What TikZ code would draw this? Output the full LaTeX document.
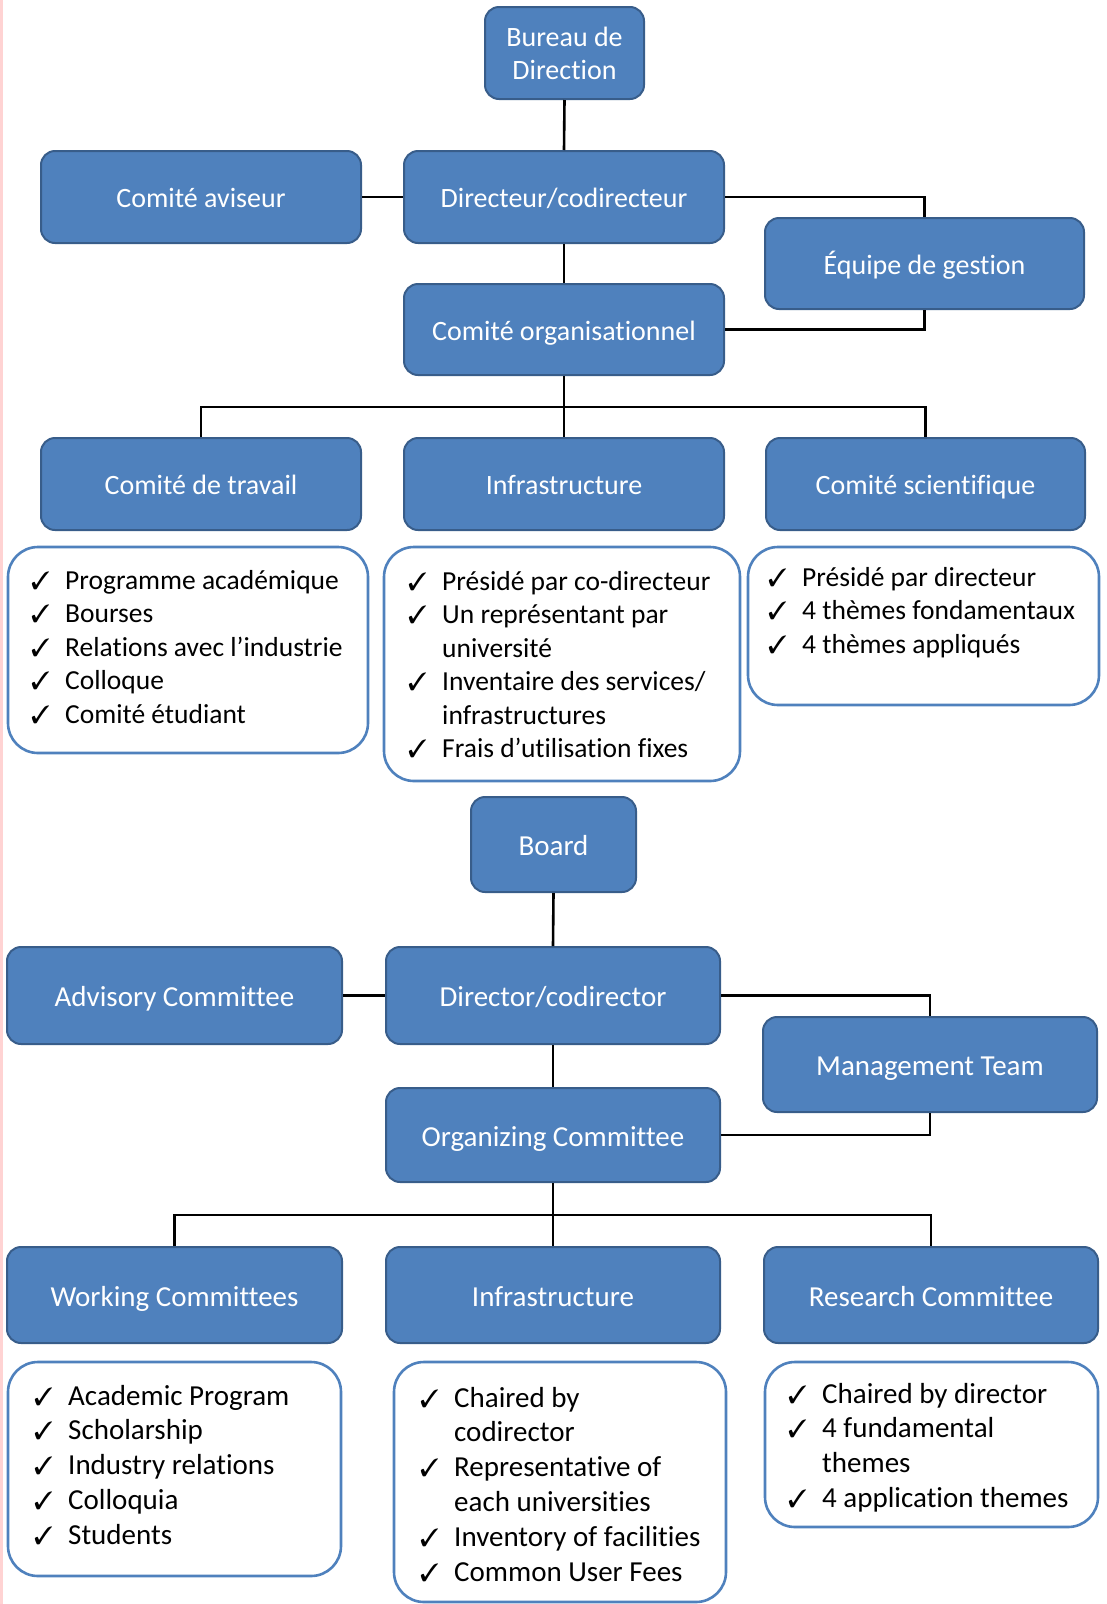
\documentclass[tikz,border=0pt]{standalone}
\usepackage{pifont}
\usepackage{fontspec}
\setmainfont{Carlito}[Ligatures=NoCommon]

\definecolor{unitblue}{HTML}{4F81BD}
\definecolor{unitedge}{HTML}{385D8A}
\definecolor{edgepink}{HTML}{FFD3D3}

\newlength{\chkw}
\setlength{\chkw}{34pt}
\newcommand{\chk}{\makebox[\chkw][l]{\fontsize{25}{25}\selectfont\ding{51}}}

\tikzset{
	unit/.style={draw=unitedge, line width=2pt, fill=unitblue, text=white,
		rounded corners=14pt, inner sep=0pt, text height=21.5pt, text depth=0pt,
		font=\fontsize{28}{33}\selectfont},
	unitE/.style={unit, text height=22.3pt, font=\fontsize{29}{34}\selectfont},
	listbox/.style={draw=unitblue, line width=2.6pt, fill=white,
		rounded corners=30pt, inner sep=0pt},
	listtext/.style={anchor=base west, inner sep=0pt, font=\fontsize{27.5}{33.5}\selectfont},
	listtextE/.style={listtext, font=\fontsize{29}{34.8}\selectfont},
	link/.style={line width=2.6pt, black},
}

\begin{document}
\begin{tikzpicture}[x=1pt,y=-1pt]
	\useasboundingbox (0,0) rectangle (1106,1604);
	\fill[edgepink] (0,0) rectangle (3,1604);

	% french chart: units
	\node[unit, text height={}, text depth={}, minimum width=159pt, minimum height=92pt, align=center] (bureau) at (564.5,53) {Bureau de\\Direction};
	\node[unit, minimum width=320pt, minimum height=92pt] (avis) at (201,197) {Comité aviseur};
	\node[unit, minimum width=320pt, minimum height=92pt] (dir) at (564,197) {Directeur/codirecteur};
	\node[unit, minimum width=319pt, minimum height=91pt] (equipe) at (924.5,263.5) {Équipe de gestion};
	\node[unit, minimum width=320pt, minimum height=91pt] (orga) at (564,329.5) {Comité organisationnel};
	\node[unit, minimum width=320pt, minimum height=92pt] (travail) at (201,484) {Comité de travail};
	\node[unit, minimum width=320pt, minimum height=92pt] (infra) at (564,484) {Infrastructure};
	\node[unit, minimum width=319pt, minimum height=92pt] (sci) at (925.5,484) {Comité scientifique};

	% french chart: lines
	\coordinate (bus) at (564,407);
	\draw[link] (bureau.south) -- (dir.north);
	\draw[link] (avis.east) -- (dir.west);
	\draw[link] (dir.east) -| (equipe.north);
	\draw[link] (orga.east) -| (equipe.south);
	\draw[link] (dir.south) -- (orga.north);
	\draw[link] (orga.south) -- (bus);
	\draw[link] (travail.north) |- (bus) -| (sci.north);
	\draw[link] (bus) -- (infra.north);

	% french chart: lists
	\draw[listbox] (8,547) rectangle (368,753);
	\draw[listbox] (384,547) rectangle (740,781);
	\draw[listbox] (748,547) rectangle (1099,705);

	\node[listtext] (travailL) at (31,589) {\begin{tabular}[t]{@{}l@{}l@{}}
		\chk & Programme académique\\
		\chk & Bourses\\
		\chk & Relations avec l’industrie\\
		\chk & Colloque\\
		\chk & Comité étudiant
	\end{tabular}};
	\node[listtext] (infraL) at (408,590) {\begin{tabular}[t]{@{}l@{}l@{}}
		\chk & Présidé par co-directeur\\
		\chk & Un représentant par\\
		     & université\\
		\chk & Inventaire des services/\\
		     & infrastructures\\
		\chk & Frais d’utilisation fixes
	\end{tabular}};
	\node[listtext] (sciL) at (768,586) {\begin{tabular}[t]{@{}l@{}l@{}}
		\chk & Présidé par directeur\\
		\chk & 4 thèmes fondamentaux\\
		\chk & 4 thèmes appliqués
	\end{tabular}};

	% english chart: units
	\node[unitE, minimum width=165pt, minimum height=95pt] (board) at (553.5,844.5) {Board};
	\node[unitE, minimum width=335pt, minimum height=97pt] (advisory) at (174.5,995.5) {Advisory Committee};
	\node[unitE, minimum width=334pt, minimum height=97pt] (director) at (553,995.5) {Director/codirector};
	\node[unitE, minimum width=334pt, minimum height=95pt] (mgmt) at (930,1064.5) {Management Team};
	\node[unitE, minimum width=334pt, minimum height=94pt] (organizing) at (553,1135) {Organizing Committee};
	\node[unitE, minimum width=335pt, minimum height=96pt] (working) at (174.5,1295) {Working Committees};
	\node[unitE, minimum width=334pt, minimum height=96pt] (infraE) at (553,1295) {Infrastructure};
	\node[unitE, minimum width=334pt, minimum height=96pt] (research) at (931,1295) {Research Committee};

	% english chart: lines
	\coordinate (busE) at (553,1215);
	\draw[link] (board.south) -- (director.north);
	\draw[link] (advisory.east) -- (director.west);
	\draw[link] (director.east) -| (mgmt.north);
	\draw[link] (organizing.east) -| (mgmt.south);
	\draw[link] (director.south) -- (organizing.north);
	\draw[link] (organizing.south) -- (busE);
	\draw[link] (working.north) |- (busE) -| (research.north);
	\draw[link] (busE) -- (infraE.north);

	% english chart: lists
	\draw[listbox] (8,1362) rectangle (341,1576);
	\draw[listbox] (394,1362) rectangle (726,1602);
	\draw[listbox] (765,1362) rectangle (1098,1527);

	\node[listtextE] (workingL) at (34,1405) {\begin{tabular}[t]{@{}l@{}l@{}}
		\chk & Academic Program\\
		\chk & Scholarship\\
		\chk & Industry relations\\
		\chk & Colloquia\\
		\chk & Students
	\end{tabular}};
	\node[listtextE] (infraEL) at (420,1407) {\begin{tabular}[t]{@{}l@{}l@{}}
		\chk & Chaired by\\
		     & codirector\\
		\chk & Representative of\\
		     & each universities\\
		\chk & Inventory of facilities\\
		\chk & Common User Fees
	\end{tabular}};
	\node[listtextE] (researchL) at (788,1403) {\begin{tabular}[t]{@{}l@{}l@{}}
		\chk & Chaired by director\\
		\chk & 4 fundamental\\
		     & themes\\
		\chk & 4 application themes
	\end{tabular}};
\end{tikzpicture}
\end{document}
